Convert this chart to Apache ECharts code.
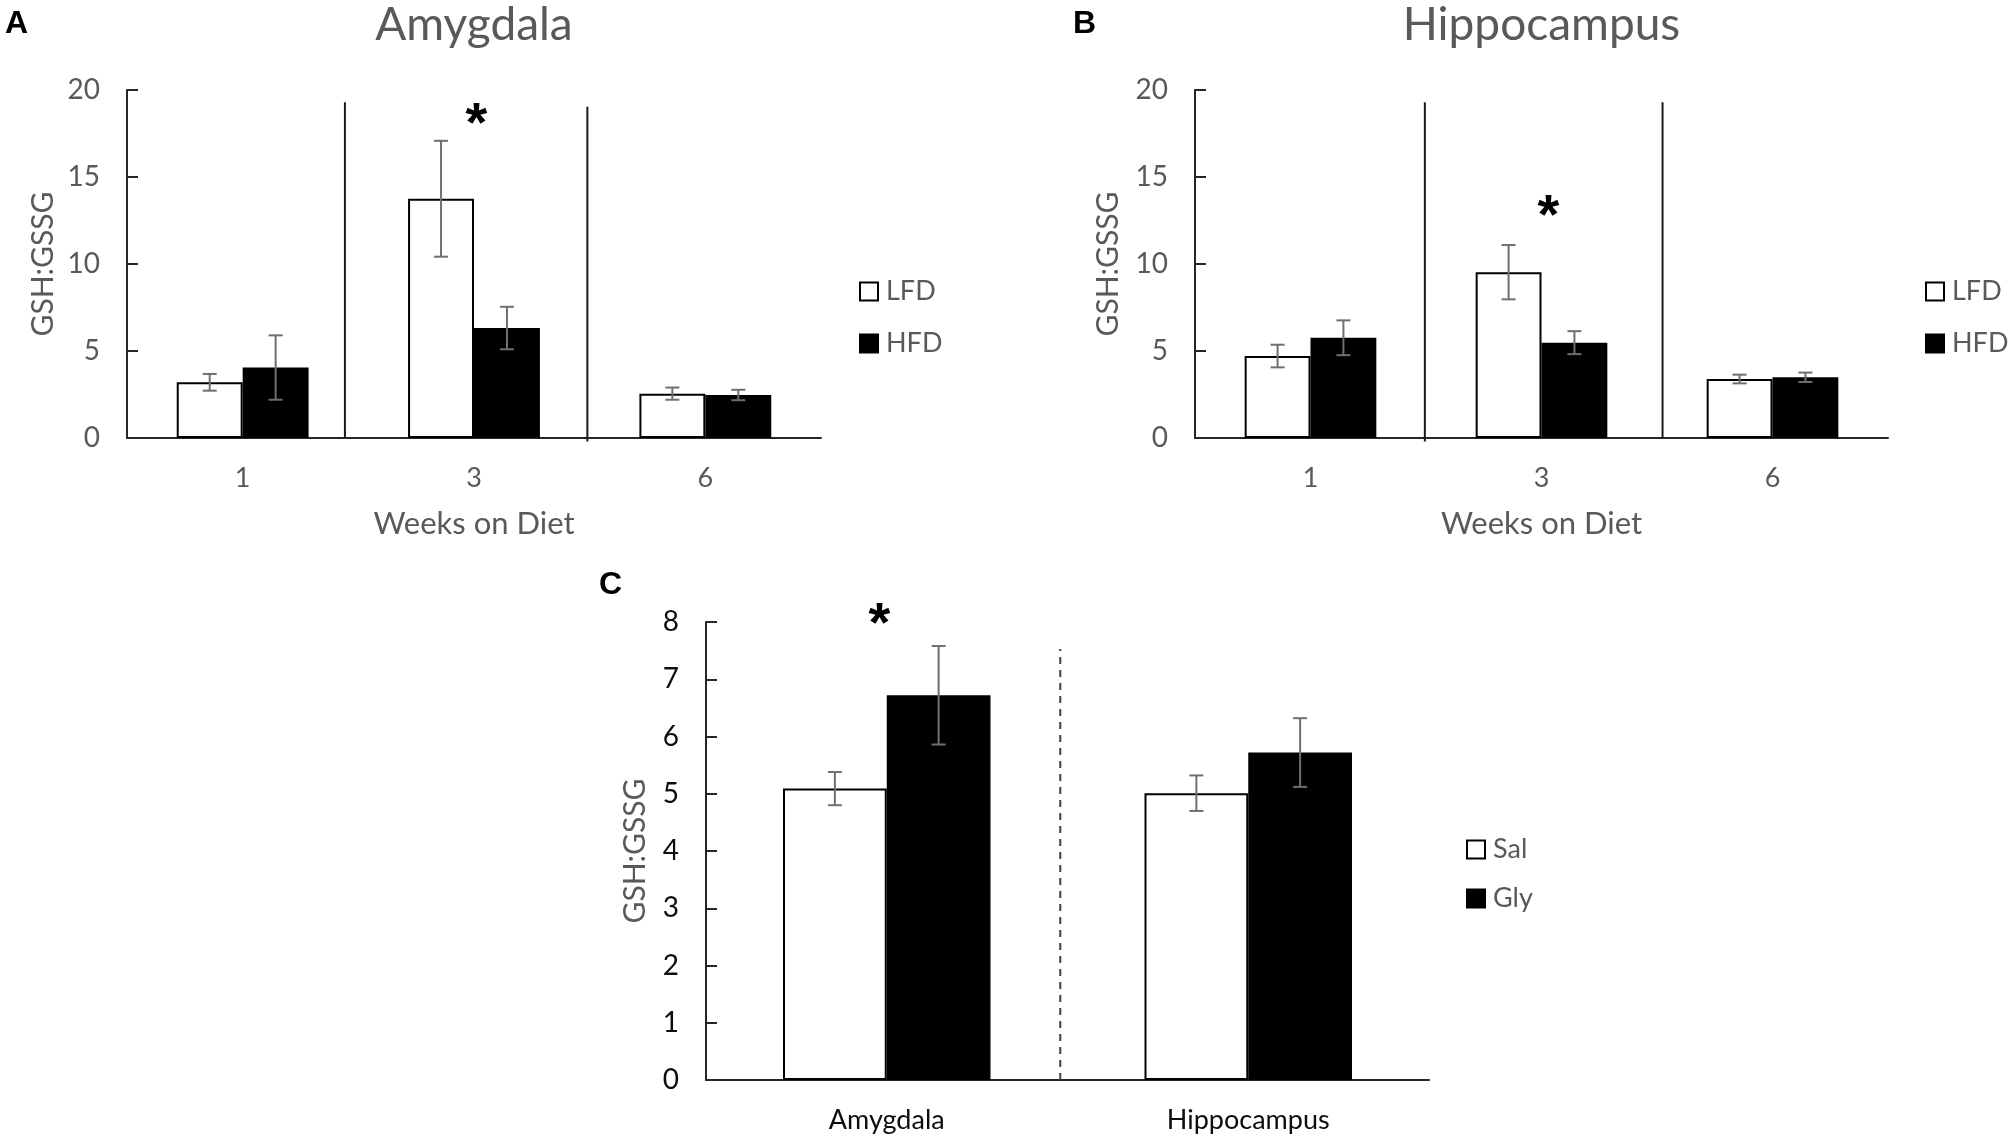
<!DOCTYPE html>
<html>
<head>
<meta charset="utf-8">
<script src="https://cdn.jsdelivr.net/npm/echarts@6/dist/echarts.min.js"></script>
<style>
html,body{margin:0;padding:0;background:#fff;}
#chart{width:2008px;height:1142px;}
</style>
</head>
<body>
<div id="chart"></div>
<script>
// ---------- data ----------
const weeks = ['1', '3', '6'];
const amyLFD = [3.2, 13.75, 2.55];
const amyLFDErr = [0.48, 3.33, 0.35];
const amyHFD = [4.05, 6.32, 2.47];
const amyHFDErr = [1.85, 1.22, 0.30];
const hipLFD = [4.71, 9.53, 3.39];
const hipLFDErr = [0.65, 1.56, 0.25];
const hipHFD = [5.76, 5.48, 3.49];
const hipHFDErr = [1.00, 0.66, 0.27];

const regions = ['Amygdala', 'Hippocampus'];
const sal = [5.09, 5.01];
const salErr = [0.29, 0.31];
const gly = [6.72, 5.72];
const glyErr = [0.86, 0.60];

// separators: [x position in category units, bottom value, top value]
const sepA = [[0.942, 0, 19.3], [1.99, -0.2, 19.04]];
const sepB = [[0.995, -0.2, 19.3], [2.024, 0, 19.3]];
const sepC = [[0.98, 0, 7.53]];
// significance markers: [x in category units, value]
const starA = [[1.51, 18.7]];
const starB = [[1.53, 13.4]];
const starC = [[0.48, 8.16]];

// ---------- layout ----------
const GA = {left: 127, top: 90, width: 694, height: 348};
const GB = {left: 1195, top: 90, width: 693, height: 348};
const GC = {left: 706, top: 622, width: 723, height: 458};
const GAP_AB = 0.43, GAP_C = 0.426;

const GRAY = '#595959';
const AXIS = '#262626';
const FONT = 'Lato';

function errSeries(grid, data, errs, sign, gap) {
  return {
    type: 'custom', xAxisIndex: grid * 2, yAxisIndex: grid, z: 5, silent: true,
    data: data.map((v, i) => [i, v, errs[i]]),
    renderItem: function (params, api) {
      const i = api.value(0), v = api.value(1), e = api.value(2);
      const band = api.size([1, 0])[0];
      const off = sign * band * (1 - gap) / 4;
      const c = api.coord([i, v]);
      const t = api.coord([i, v + e]);
      const b = api.coord([i, v - e]);
      const x = c[0] + off;
      const cap = 7;
      const st = {stroke: '#6f6f6f', lineWidth: 2};
      return {type: 'group', children: [
        {type: 'line', shape: {x1: x, y1: t[1], x2: x, y2: b[1]}, style: st},
        {type: 'line', shape: {x1: x - cap, y1: t[1], x2: x + cap, y2: t[1]}, style: st},
        {type: 'line', shape: {x1: x - cap, y1: b[1], x2: x + cap, y2: b[1]}, style: st}
      ]};
    }
  };
}
function sepSeries(grid, seps, dashed) {
  return {
    type: 'custom', xAxisIndex: grid * 2 + 1, yAxisIndex: grid, z: 6, silent: true, clip: false,
    data: seps,
    renderItem: function (params, api) {
      const b = api.coord([api.value(0), api.value(1)]);
      const t = api.coord([api.value(0), api.value(2)]);
      return {type: 'line', shape: {x1: b[0], y1: b[1], x2: t[0], y2: t[1]},
        style: dashed ? {stroke: '#404040', lineWidth: 2, lineDash: [7, 6]} : {stroke: '#1a1a1a', lineWidth: 2}};
    }
  };
}
function starSeries(grid, pts) {
  return {
    type: 'custom', xAxisIndex: grid * 2 + 1, yAxisIndex: grid, z: 7, silent: true, clip: false,
    data: pts,
    renderItem: function (params, api) {
      const p = api.coord([api.value(0), api.value(1)]);
      return {type: 'text', x: p[0], y: p[1] + 13,
        style: {text: '*', fontFamily: 'Liberation Sans', fontWeight: 'bold', fontSize: 56,
          fill: '#000', align: 'center', verticalAlign: 'middle'}};
    }
  };
}
function barSeries(grid, name, data, filled, gap) {
  return {
    name: name, type: 'bar', xAxisIndex: grid * 2, yAxisIndex: grid,
    data: data, barGap: '0%', barCategoryGap: (gap * 100) + '%',
    itemStyle: filled ? {color: '#000', borderColor: '#000', borderWidth: 2}
                      : {color: '#fff', borderColor: '#000', borderWidth: 2},
    emphasis: {disabled: true}
  };
}
function catAxis(grid, cats, color) {
  return {type: 'category', gridIndex: grid, data: cats,
    axisLine: {lineStyle: {color: AXIS, width: 2}}, axisTick: {show: false},
    axisLabel: {fontFamily: FONT, fontSize: 27, color: color, margin: 27}};
}
function hiddenAxis(grid, max) {
  return {type: 'value', gridIndex: grid, min: 0, max: max, show: false};
}
function valAxis(grid, max, interval, color, gap) {
  return {type: 'value', gridIndex: grid, min: 0, max: max, interval: interval,
    name: 'GSH:GSSG', nameLocation: 'middle', nameGap: gap,
    nameTextStyle: {fontFamily: FONT, fontSize: 30, color: GRAY},
    axisLine: {show: true, lineStyle: {color: AXIS, width: 2}},
    axisTick: {show: true, inside: true, length: 11, lineStyle: {color: AXIS, width: 2}},
    splitLine: {show: false},
    axisLabel: {fontFamily: FONT, fontSize: 28, color: color, margin: 27}};
}

const xA = catAxis(0, weeks, GRAY);
xA.name = 'Weeks on Diet'; xA.nameLocation = 'middle'; xA.nameGap = 70;
xA.nameTextStyle = {fontFamily: FONT, fontSize: 31, color: GRAY};
const xB = catAxis(1, weeks, GRAY);
xB.name = 'Weeks on Diet'; xB.nameLocation = 'middle'; xB.nameGap = 70;
xB.nameTextStyle = {fontFamily: FONT, fontSize: 31, color: GRAY};
const xC = catAxis(2, regions, '#0d0d0d');

const legendText = {fontFamily: FONT, fontSize: 27, color: GRAY, padding: [0, 0, 0, 3]};
const panelLabel = {fontFamily: 'Liberation Sans', fontWeight: 'bold', fontSize: 32, color: '#000'};

const option = {
  animation: false,
  backgroundColor: '#fff',
  title: [
    {text: 'A', left: 0, top: 3, textStyle: panelLabel},
    {text: 'B', left: 1068, top: 3, textStyle: panelLabel},
    {text: 'C', left: 594, top: 564, textStyle: panelLabel},
    {text: 'Amygdala', left: GA.left + GA.width / 2 - 5, textAlign: 'center', top: -3,
      textStyle: {fontFamily: FONT, fontWeight: 'normal', fontSize: 46, color: GRAY}},
    {text: 'Hippocampus', left: GB.left + GB.width / 2 - 5, textAlign: 'center', top: -3,
      textStyle: {fontFamily: FONT, fontWeight: 'normal', fontSize: 46, color: GRAY}}
  ],
  legend: [
    {data: ['LFD', 'HFD'], orient: 'vertical', left: 854, top: 273, itemWidth: 18, itemHeight: 18,
      itemGap: 25, icon: 'rect', textStyle: legendText, selectedMode: false},
    {data: ['LFD', 'HFD'], orient: 'vertical', left: 1920, top: 273, itemWidth: 18, itemHeight: 18,
      itemGap: 25, icon: 'rect', textStyle: legendText, selectedMode: false},
    {data: ['Sal', 'Gly'], orient: 'vertical', left: 1461, top: 831, itemWidth: 18, itemHeight: 18,
      itemGap: 22, icon: 'rect', textStyle: legendText, selectedMode: false}
  ],
  grid: [GA, GB, GC],
  xAxis: [xA, hiddenAxis(0, 3), xB, hiddenAxis(1, 3), xC, hiddenAxis(2, 2)],
  yAxis: [valAxis(0, 20, 5, GRAY, 69), valAxis(1, 20, 5, GRAY, 72), valAxis(2, 8, 1, '#0d0d0d', 56)],
  series: [
    barSeries(0, 'LFD', amyLFD, false, GAP_AB),
    barSeries(0, 'HFD', amyHFD, true, GAP_AB),
    errSeries(0, amyLFD, amyLFDErr, -1, GAP_AB),
    errSeries(0, amyHFD, amyHFDErr, 1, GAP_AB),
    sepSeries(0, sepA, false),
    starSeries(0, starA),

    barSeries(1, 'LFD', hipLFD, false, GAP_AB),
    barSeries(1, 'HFD', hipHFD, true, GAP_AB),
    errSeries(1, hipLFD, hipLFDErr, -1, GAP_AB),
    errSeries(1, hipHFD, hipHFDErr, 1, GAP_AB),
    sepSeries(1, sepB, false),
    starSeries(1, starB),

    barSeries(2, 'Sal', sal, false, GAP_C),
    barSeries(2, 'Gly', gly, true, GAP_C),
    errSeries(2, sal, salErr, -1, GAP_C),
    errSeries(2, gly, glyErr, 1, GAP_C),
    sepSeries(2, sepC, true),
    starSeries(2, starC)
  ]
};

const chart = echarts.init(document.getElementById('chart'), null, {renderer: 'canvas'});
chart.setOption(option);
</script>
</body>
</html>
